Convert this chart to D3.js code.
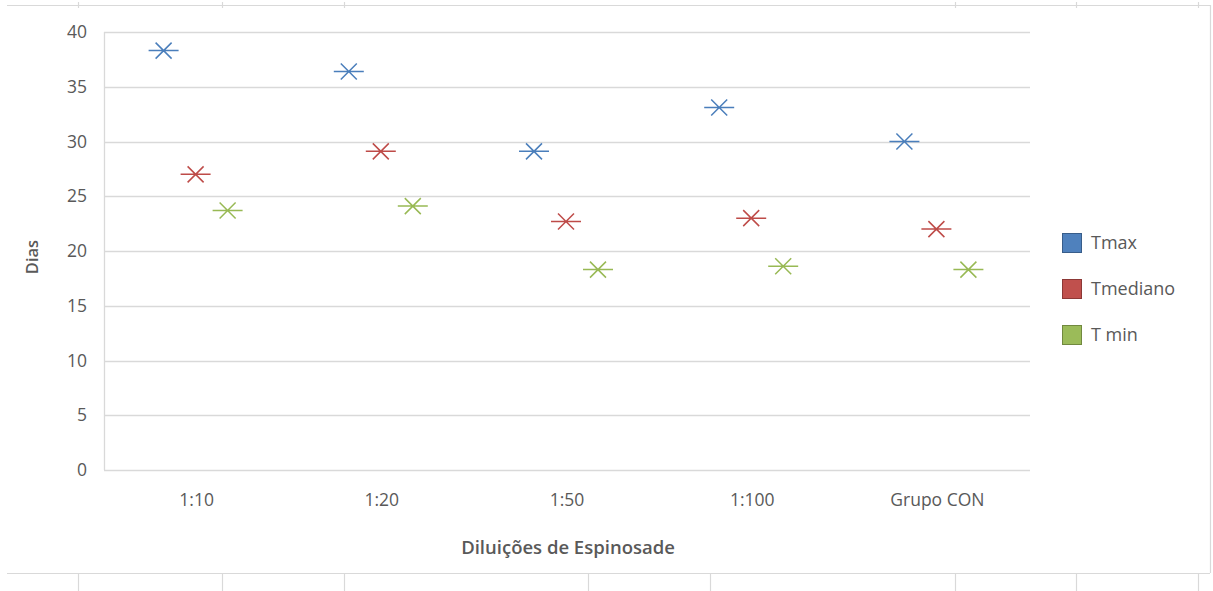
<!DOCTYPE html>
<html><head><meta charset="utf-8">
<script src="https://cdn.jsdelivr.net/npm/d3@7"></script>
<style>body{margin:0;background:#fff}svg{display:block}text{font-family:"Open Sans",sans-serif;fill:#595959}</style>
</head><body><svg id="c" width="1213" height="591"></svg>
<script>
const categories = ["1:10","1:20","1:50","1:100","Grupo CON"];
const seriesNames = ["Tmax","Tmediano","T min"];
const tmax = [38.3,36.4,29.1,33.1,30.0];
const tmediano = [27.0,29.1,22.7,23.0,22.0];
const tmin = [23.7,24.1,18.3,18.6,18.3];
const yTicks = [0,5,10,15,20,25,30,35,40];
const colors = ["#4A7EBB","#BE4B48","#98B954"];
const legendFill = ["#4F81BD","#C0504D","#9BBB59"];
const legendStroke = ["#385D8A","#8C3836","#71893F"];

const svg = d3.select("#c");
const L=104,R=1030,T=32,B=470;
const x = d3.scaleBand().domain(categories).range([L,R]);
const y = d3.scaleLinear().domain([0,40]).range([B,T]);
const off = d3.scalePoint().domain(seriesNames).range([-33,31]);

// sheet frame lines
const fr = svg.append("g").attr("stroke","#d9d9d9").attr("stroke-width",1.2);
fr.append("line").attr("x1",7).attr("x2",1210).attr("y1",5.5).attr("y2",5.5);
fr.append("line").attr("x1",7).attr("x2",1210).attr("y1",573.5).attr("y2",573.5);
fr.append("line").attr("x1",1210.5).attr("x2",1210.5).attr("y1",5).attr("y2",573);
[78,222,344,955,1076,1198].forEach(v=>fr.append("line").attr("x1",v+.5).attr("x2",v+.5).attr("y1",2).attr("y2",8));
[78,222,344,588,710,955,1076,1198].forEach(v=>fr.append("line").attr("x1",v+.5).attr("x2",v+.5).attr("y1",573).attr("y2",591));

// grid
svg.append("g").selectAll("line").data(yTicks).join("line")
 .attr("x1",L).attr("x2",R).attr("y1",d=>Math.round(y(d))+.5).attr("y2",d=>Math.round(y(d))+.5)
 .attr("stroke","#d9d9d9").attr("stroke-width",1.3);
svg.append("line").attr("x1",L+.5).attr("x2",L+.5).attr("y1",T).attr("y2",B).attr("stroke","#d9d9d9").attr("stroke-width",1.3);

// y axis labels
const ya = svg.append("g").attr("transform",`translate(${L},0)`)
 .call(d3.axisLeft(y).tickValues(yTicks).tickSize(0).tickPadding(17));
ya.select(".domain").remove();
ya.selectAll("text").style("font-size","17.5px").style("font-family","'Open Sans',sans-serif").attr("fill","#595959");

// x axis labels
const xa = svg.append("g").attr("transform",`translate(0,${B})`)
 .call(d3.axisBottom(x).tickSize(0).tickPadding(24));
xa.select(".domain").remove();
xa.selectAll("text").style("font-size","17.5px").style("font-family","'Open Sans',sans-serif").attr("fill","#595959");

svg.append("text").attr("x",(L+R)/2+1).attr("y",554).attr("text-anchor","middle")
 .style("font-size","18.5px").style("font-weight","600").text("Diluições de Espinosade");
svg.append("text").attr("transform","translate(38,257) rotate(-90)").attr("text-anchor","middle")
 .style("font-size","16.5px").style("font-weight","600").text("Dias");

// markers
const data = [tmax,tmediano,tmin];
data.forEach((vals,si)=>{
  const g = svg.append("g").attr("stroke",colors[si]).attr("stroke-width",1.5).attr("fill","none");
  const pts = g.selectAll("g").data(vals.map((v,i)=>({c:categories[i],v}))).join("g")
   .attr("transform",d=>`translate(${x(d.c)+x.bandwidth()/2+off(seriesNames[si])},${y(d.v)})`);
  pts.append("path").attr("d","M-15,0H15M-8,-8L8,8M-8,8L8,-8");
});

// legend
const lg = svg.append("g");
seriesNames.forEach((n,i)=>{
  const yy = 243 + i*46;
  lg.append("rect").attr("x",1062.5).attr("y",yy-9.5).attr("width",19).attr("height",19)
    .attr("fill",legendFill[i]).attr("stroke",legendStroke[i]).attr("stroke-width",1);
  lg.append("text").attr("x",1091).attr("y",yy+6).style("font-size","18px").text(n);
});
</script></body></html>
